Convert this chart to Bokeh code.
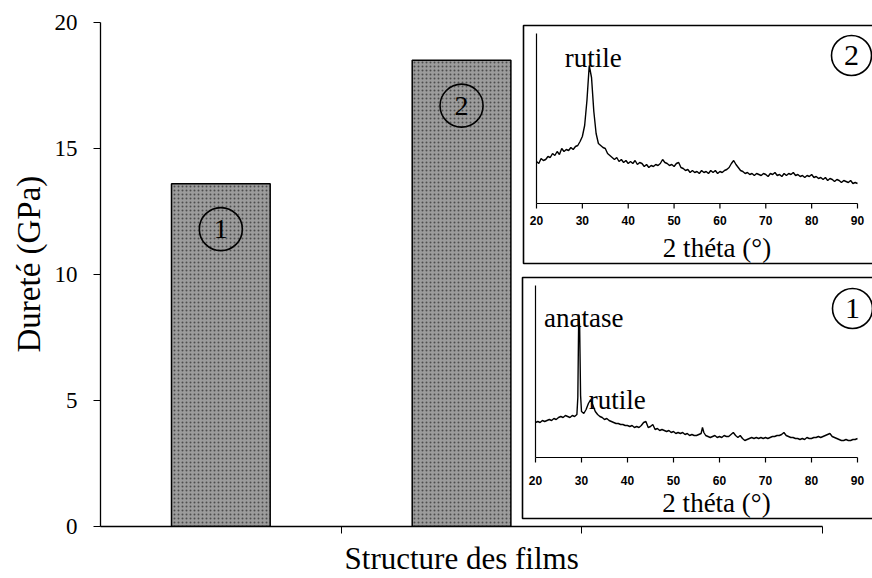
from bokeh.plotting import figure
from bokeh.models import Range1d, FixedTicker, Title
from bokeh.core.properties import value
from bokeh.embed import file_html
from bokeh.resources import INLINE

# ---------------- data ----------------
films = ["1", "2"]
hardness_gpa = [13.6, 18.5]
hardness_ticks = [0, 5, 10, 15, 20]
film_ticks = [1, 2, 3]
theta_ticks = [20, 30, 40, 50, 60, 70, 80, 90]

# XRD pattern of film 2 (upper inset), 2-theta in degrees, intensity a.u.
xrd2_theta = [20.0, 20.5, 21.0, 21.5, 22.0, 22.5, 23.0, 23.5, 24.0, 24.5, 25.0, 25.5, 26.0, 26.5, 27.0,
              27.5, 28.0, 28.5, 29.0, 29.5, 30.0, 30.5, 31.0, 31.5, 32.0, 32.5, 33.0, 33.5, 34.0, 34.5,
              35.0, 35.5, 36.0, 36.5, 37.0, 37.5, 38.0, 38.5, 39.0, 39.5, 40.0, 40.5, 41.0, 41.5, 42.0,
              42.5, 43.0, 43.5, 44.0, 44.5, 45.0, 45.5, 46.0, 46.5, 47.0, 47.5, 48.0, 48.5, 49.0, 49.5,
              50.0, 50.5, 51.0, 51.5, 52.0, 52.5, 53.0, 53.5, 54.0, 54.5, 55.0, 55.5, 56.0, 56.5, 57.0,
              57.5, 58.0, 58.5, 59.0, 59.5, 60.0, 60.5, 61.0, 61.5, 62.0, 62.5, 63.0, 63.5, 64.0, 64.5,
              65.0, 65.5, 66.0, 66.5, 67.0, 67.5, 68.0, 68.5, 69.0, 69.5, 70.0, 70.5, 71.0, 71.5, 72.0,
              72.5, 73.0, 73.5, 74.0, 74.5, 75.0, 75.5, 76.0, 76.5, 77.0, 77.5, 78.0, 78.5, 79.0, 79.5,
              80.0, 80.5, 81.0, 81.5, 82.0, 82.5, 83.0, 83.5, 84.0, 84.5, 85.0, 85.5, 86.0, 86.5, 87.0,
              87.5, 88.0, 88.5, 89.0, 89.5, 90.0]
xrd2_counts = [42, 40, 45, 43, 44, 47, 46, 50, 48, 52, 49, 55, 52, 54, 53,
               56, 54, 57, 58, 62, 67, 78, 103, 138, 126, 92, 70, 60, 58, 56,
               55, 50, 48, 46, 44, 46, 42, 44, 41, 43, 40, 42, 40, 43, 39,
               41, 40, 37, 39, 36, 38, 37, 39, 38, 40, 44, 41, 40, 38, 39,
               37, 40, 41, 36, 35, 33, 34, 31, 33, 31, 32, 30, 33, 31, 32,
               30, 33, 31, 33, 30, 32, 31, 33, 34, 36, 40, 43, 39, 36, 33,
               32, 30, 31, 29, 30, 28, 30, 29, 28, 30, 29, 27, 30, 29, 31,
               28, 29, 27, 30, 28, 30, 29, 31, 28, 29, 27, 28, 26, 28, 27,
               29, 26, 27, 25, 26, 24, 26, 23, 25, 24, 22, 24, 23, 21, 23,
               22, 21, 23, 20, 21, 20]

# XRD pattern of film 1 (lower inset)
xrd1_theta = [20.0, 20.5, 21.0, 21.5, 22.0, 22.5, 23.0, 23.5, 24.0, 24.5, 25.0, 25.5, 26.0, 26.5, 27.0,
              27.5, 28.0, 28.5, 29.0, 29.2, 29.4, 29.6, 29.8, 30.0, 30.5, 31.0, 31.5, 32.0, 32.5, 33.0,
              33.5, 34.0, 34.5, 35.0, 35.5, 36.0, 36.5, 37.0, 37.5, 38.0, 38.5, 39.0, 39.5, 40.0, 40.5,
              41.0, 41.5, 42.0, 42.5, 43.0, 43.5, 44.0, 44.5, 45.0, 45.5, 46.0, 46.5, 47.0, 47.5, 48.0,
              48.5, 49.0, 49.5, 50.0, 50.5, 51.0, 51.5, 52.0, 52.5, 53.0, 53.5, 54.0, 54.5, 55.0, 55.5,
              56.0, 56.3, 56.6, 57.0, 57.5, 58.0, 58.5, 59.0, 59.5, 60.0, 60.5, 61.0, 61.5, 62.0, 62.5,
              63.0, 63.5, 64.0, 64.5, 65.0, 65.5, 66.0, 66.5, 67.0, 67.5, 68.0, 68.5, 69.0, 69.5, 70.0,
              70.5, 71.0, 71.5, 72.0, 72.5, 73.0, 73.5, 74.0, 74.5, 75.0, 75.5, 76.0, 76.5, 77.0, 77.5,
              78.0, 78.5, 79.0, 79.5, 80.0, 80.5, 81.0, 81.5, 82.0, 82.5, 83.0, 83.5, 84.0, 84.5, 85.0,
              85.5, 86.0, 86.5, 87.0, 87.5, 88.0, 88.5, 89.0, 89.5, 90.0]
xrd1_counts = [35, 36, 35, 37, 36, 37, 38, 37, 39, 38, 40, 41, 40, 42, 41,
               40, 42, 41, 43, 60, 143, 130, 62, 46, 44, 48, 54, 58, 52, 46,
               43, 41, 40, 38, 39, 37, 36, 35, 34, 34, 33, 33, 32, 32, 31,
               32, 30, 31, 30, 32, 35, 36, 30, 31, 33, 28, 29, 27, 28, 27,
               26, 27, 25, 26, 24, 25, 24, 25, 23, 24, 22, 23, 22, 22, 23,
               24, 30, 25, 22, 21, 20, 21, 22, 20, 21, 20, 22, 21, 21, 23,
               25, 22, 20, 22, 19, 17, 18, 19, 20, 19, 20, 19, 20, 19, 20,
               19, 20, 21, 21, 22, 22, 23, 25, 22, 21, 20, 20, 19, 19, 18,
               19, 18, 20, 19, 19, 20, 20, 21, 20, 21, 22, 23, 24, 21, 20,
               19, 18, 17, 17, 18, 17, 17, 18, 18, 19]

peak2_theta, peak2_counts, peak2_name = 31.5, 138, "rutile"
peak1a_theta, peak1a_counts, peak1a_name = 29.4, 143, "anatase"
peak1r_theta, peak1r_counts, peak1r_name = 32.0, 58, "rutile"

# ---------------- layout (page pixels) ----------------
FL, FR, FT, FB = 100, 872, 22, 526
CAT_PX = 240.7
SERIF_NAME = "Liberation Serif"
SERIF = value(SERIF_NAME)
SANS = value("Liberation Sans")

p = figure(frame_width=FR - FL, frame_height=FB - FT,
           x_range=Range1d(0, (FR - FL) / CAT_PX), y_range=Range1d(0, 20),
           output_backend="svg", toolbar_location=None,
           min_border_left=FL, min_border_right=0,
           min_border_top=FT, min_border_bottom=578 - FB)
p.outline_line_color = None
p.grid.visible = False
p.background_fill_color = "white"
p.border_fill_color = "white"

# y axis
ya = p.yaxis[0]
ya.ticker = FixedTicker(ticks=hardness_ticks)
ya.bounds = (0, 20)
ya.major_label_text_font = SERIF_NAME
ya.major_label_text_font_size = "23px"
ya.major_label_text_color = "black"
ya.major_label_standoff = 16
ya.major_tick_out = 7
ya.major_tick_in = 0
ya.minor_tick_out = 0
ya.minor_tick_in = 0
ya.axis_line_width = 1.3
ya.axis_line_color = "black"
ya.major_tick_line_color = "black"

# y title, placed a little above the frame centre as in the original
YTITLE_LEN = 180
p.add_layout(Title(text="Dureté (GPa)", align="left",
                   offset=(FB - FT) / 2 + 12 - YTITLE_LEN / 2,
                   text_font=SERIF_NAME, text_font_style="normal",
                   text_font_size="33px", text_color="black"), "left")

# x axis (category boundaries, no tick labels)
xa = p.xaxis[0]
xa.ticker = FixedTicker(ticks=film_ticks)
xa.bounds = (0, 3)
xa.major_label_overrides = {t: "" for t in film_ticks}
xa.major_label_standoff = 3
xa.major_tick_out = 7
xa.major_tick_in = 0
xa.minor_tick_out = 0
xa.minor_tick_in = 0
xa.axis_line_width = 1.3
xa.axis_line_color = "black"
xa.major_tick_line_color = "black"

# x title, centred on the axis span (0..3) rather than on the frame
TITLE_W = 234
p.add_layout(Title(text="Structure des films", align="left",
                   offset=CAT_PX * 1.5 - TITLE_W / 2,
                   text_font=SERIF_NAME, text_font_style="normal",
                   text_font_size="31px", text_color="black"), "below")

# bars
bar_x = [0.5, 1.5]
p.vbar(x=bar_x, top=hardness_gpa, bottom=0, width=0.41,
       fill_color="#9c9c9c", line_color="black", line_width=1.5,
       hatch_pattern=".", hatch_color="#3a3a3a", hatch_scale=4, hatch_alpha=0.8)
circ_y = [h - 1.8 for h in hardness_gpa]
p.scatter(x=bar_x, y=circ_y, marker="circle", size=43, fill_color=None,
          line_color="black", line_width=1.6)
p.text(x=bar_x, y=circ_y, text=films, text_font=SERIF, text_font_size="28px",
       text_align="center", text_baseline="middle", text_color="black")

# ---------------- insets ----------------
xr, yr = {}, {}


def make_inset(name, px_x20, px_x90, px_y0):
    t0, t1 = theta_ticks[0], theta_ticks[-1]
    dpp = (t1 - t0) / (px_x90 - px_x20)
    xr[name + "_x"] = Range1d(t0 - (px_x20 - FL) * dpp, t1 + (FR - px_x90) * dpp)
    yr[name + "_y"] = Range1d(-(FB - px_y0), px_y0 - FT)
    return (lambda px: t0 + (px - px_x20) * dpp), (lambda py: px_y0 - py)


tx2, ty2 = make_inset("up", 536, 857, 203)
tx1, ty1 = make_inset("lo", 535, 857, 457)
p.extra_x_ranges = xr
p.extra_y_ranges = yr


def draw_inset(name, tx, ty, box, axis_top_px, theta, counts, lab_off, title_off, circ_px, circ_txt):
    kw = dict(x_range_name=name + "_x", y_range_name=name + "_y")
    bl, bt, bb = box
    p.quad(left=[tx(bl)], right=[tx(FR + 30)], top=[ty(bt)], bottom=[ty(bb)],
           fill_color="white", line_color="black", line_width=1.6, **kw)
    t0, t1 = theta_ticks[0], theta_ticks[-1]
    p.segment(x0=[t0], y0=[0], x1=[t0], y1=[ty(axis_top_px)], line_color="black", line_width=1.2, **kw)
    p.segment(x0=[t0], y0=[0], x1=[t1], y1=[0], line_color="black", line_width=1.2, **kw)
    n = len(theta_ticks)
    p.segment(x0=theta_ticks, y0=[0] * n, x1=theta_ticks, y1=[-5] * n,
              line_color="black", line_width=1.2, **kw)
    p.text(x=theta_ticks, y=[0] * n, text=[str(t) for t in theta_ticks], y_offset=lab_off,
           text_font=SANS, text_font_style="bold", text_font_size="12px",
           text_align="center", text_baseline="middle", text_color="black", **kw)
    p.text(x=[(t0 + t1) / 2], y=[0], text=["2 théta (°)"], x_offset=20, y_offset=title_off,
           text_font=SERIF, text_font_size="27px", text_align="center",
           text_baseline="middle", text_color="black", **kw)
    p.line(theta, counts, line_color="black", line_width=1.4, **kw)
    cx, cy = circ_px
    p.scatter(x=[tx(cx)], y=[ty(cy)], marker="circle", size=40, fill_color=None,
              line_color="black", line_width=1.6, **kw)
    p.text(x=[tx(cx)], y=[ty(cy)], text=[circ_txt], text_font=SERIF, text_font_size="30px",
           text_align="center", text_baseline="middle", text_color="black", **kw)
    return kw


kw2 = draw_inset("up", tx2, ty2, (523, 25, 263), 33, xrd2_theta, xrd2_counts, 17, 44, (851, 55), films[1])
p.text(x=[peak2_theta], y=[peak2_counts], text=[peak2_name], x_offset=4, y_offset=-8,
       text_font=SERIF, text_font_size="27px", text_align="center",
       text_baseline="alphabetic", text_color="black", **kw2)

kw1 = draw_inset("lo", tx1, ty1, (522, 277, 518), 285, xrd1_theta, xrd1_counts, 23, 45, (852, 308), films[0])
p.text(x=[peak1a_theta], y=[peak1a_counts], text=[peak1a_name], x_offset=5, y_offset=3,
       text_font=SERIF, text_font_size="27px", text_align="center",
       text_baseline="alphabetic", text_color="black", **kw1)
p.text(x=[peak1r_theta], y=[peak1r_counts], text=[peak1r_name], x_offset=-2, y_offset=0,
       text_font=SERIF, text_font_size="27px", text_align="left",
       text_baseline="alphabetic", text_color="black", **kw1)

open("out.html", "w").write(file_html(p, INLINE))
